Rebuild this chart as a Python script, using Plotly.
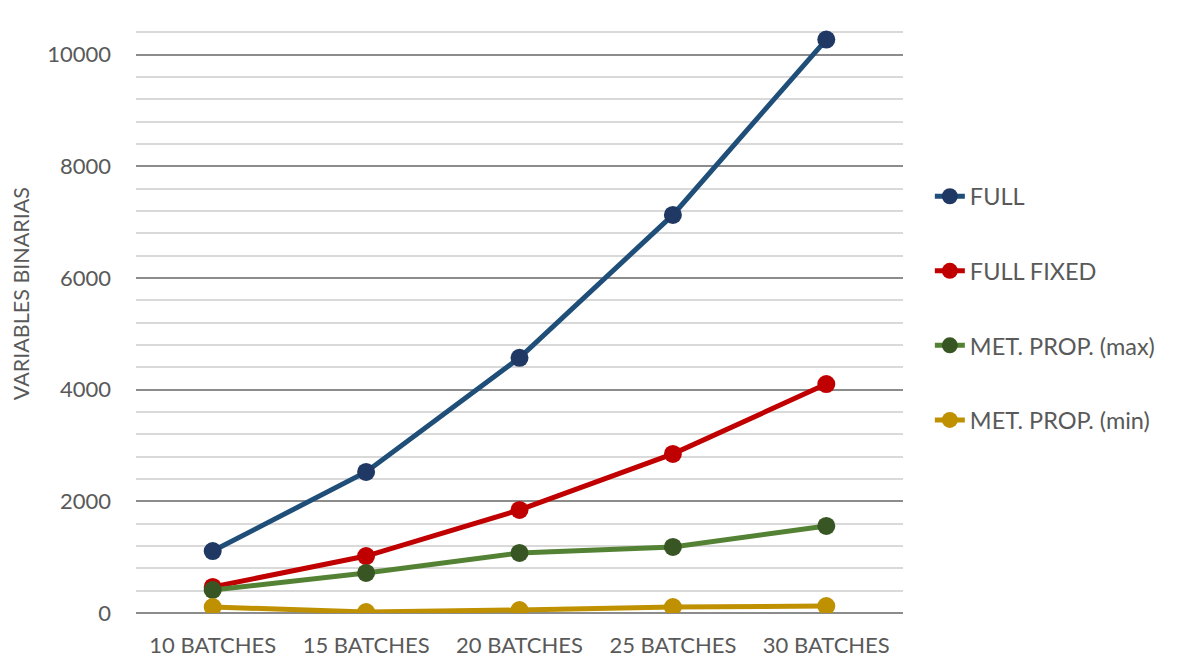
import plotly.graph_objects as go

categories = ["10 BATCHES", "15 BATCHES", "20 BATCHES", "25 BATCHES", "30 BATCHES"]
full = [1110, 2527, 4570, 7130, 10270]
full_fixed = [466, 1020, 1846, 2850, 4100]
met_max = [412, 717, 1075, 1183, 1559]
met_min = [107, 18, 54, 107, 125]

series = [
    ("FULL", full, "#1F4E79", "#203864"),
    ("FULL FIXED", full_fixed, "#C00000", "#C00000"),
    ("MET. PROP. (max)", met_max, "#548235", "#375623"),
    ("MET. PROP. (min)", met_min, "#BF9000", "#BF9000"),
]

fig = go.Figure()
for i, (name, vals, lc, mc) in enumerate(series):
    fig.add_trace(go.Scatter(
        x=categories, y=vals, name=name, mode="lines+markers",
        line=dict(color=lc, width=5),
        marker=dict(color=mc, size=18),
        legendgroup=f"g{i}",
    ))

font_family = "Lato, Open Sans, sans-serif"
fig.update_layout(
    width=1195, height=659,
    margin=dict(l=136, r=292, t=10, b=46),
    plot_bgcolor="white", paper_bgcolor="white",
    font=dict(family=font_family, size=22, color="#595959"),
    showlegend=True,
    legend=dict(
        x=1.035, xanchor="left", y=0.505, yanchor="middle",
        font=dict(size=23.5, color="#595959"),
        tracegroupgap=41,
        bgcolor="rgba(0,0,0,0)",
    ),
    xaxis=dict(
        showgrid=False, zeroline=False, showline=False, ticks="",
        tickfont=dict(size=22, color="#595959"),
        ticklabelstandoff=17, automargin=False,
        range=[-0.5, 4.5],
    ),
    yaxis=dict(
        range=[0, 10800], dtick=2000, tick0=0, tickformat="d",
        showgrid=True, gridcolor="#8C8C8C", gridwidth=1.5,
        zeroline=True, zerolinecolor="#8C8C8C", zerolinewidth=1.5,
        showline=False, ticks="", automargin=False,
        ticklabelstandoff=24,
        tickfont=dict(size=22, color="#595959"),
        minor=dict(dtick=400, tick0=0, showgrid=True, gridcolor="#D9D9D9", gridwidth=1.5),
    ),
    annotations=[dict(
        text="VARIABLES BINARIAS", textangle=-90,
        xref="paper", yref="paper", x=-0.149, y=0.53,
        xanchor="center", yanchor="middle", showarrow=False,
        font=dict(size=21.5, color="#595959"),
    )],
)

fig.write_html("out.html")
